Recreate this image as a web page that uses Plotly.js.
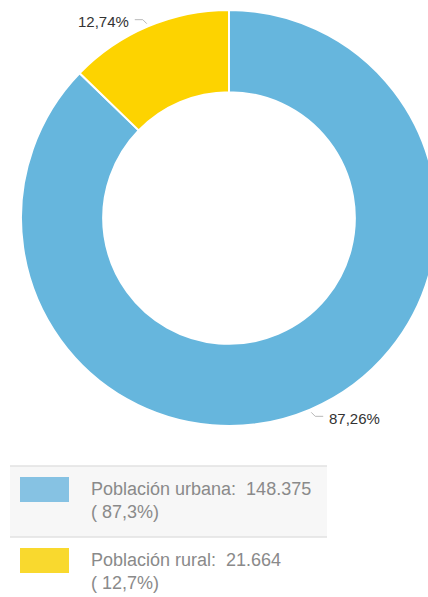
<!DOCTYPE html>
<html>
<head>
<meta charset="utf-8">
<script src="https://cdn.plot.ly/plotly-3.0.1.min.js"></script>
<style>
html, body { margin: 0; padding: 0; overflow: hidden; background: #ffffff; }
#chart { width: 460px; height: 597px; }
</style>
</head>
<body>
<div id="chart"></div>
<script>
// ---- data ----
const categories = ['Población urbana', 'Población rural'];
const values = [148375, 21664];
const sliceColors = ['#66b6dd', '#fdd300'];
const legendColors = ['#86c2e3', '#f9d92e'];

// ---- geometry (layout only) ----
const W = 460, H = 597;
const cx = 229, cy = 218, R = 208;
const px = x => x / W;
const py = y => 1 - y / H;

const total = values.reduce((a, b) => a + b, 0);
const fmtPct = (v, d) => (100 * v / total).toFixed(d).replace('.', ',') + '%';
const fmtNum = v => v.toString().replace(/\B(?=(\d{3})+(?!\d))/g, '.');

const trace = {
  type: 'pie',
  labels: categories,
  values: values,
  sort: false,
  direction: 'clockwise',
  rotation: 0,
  hole: 0.605,
  textinfo: 'none',
  hoverinfo: 'label+value+percent',
  marker: { colors: sliceColors, line: { color: '#ffffff', width: 2 } },
  domain: { x: [px(cx - R), px(cx + R)], y: [py(cy + R), py(cy - R)] },
  showlegend: false
};

const shapes = [];
const annotations = [];

// outside data labels with crooked connectors
let cum = 0;
values.forEach((v, i) => {
  const mid = (cum + v / 2) / total;
  cum += v;
  const th = mid * 2 * Math.PI;
  const s = Math.sin(th), c = Math.cos(th);
  const side = s >= 0 ? 1 : -1;
  const vs = c < 0 ? 1 : -1;
  const x0 = cx + (R + 3) * s, y0 = cy - (R + 3) * c;
  const x1 = x0 + side * 4, y1 = y0 + vs * 4;
  const x2 = x1 + side * 8, y2 = y1;
  shapes.push({
    type: 'path', xref: 'paper', yref: 'paper',
    path: `M ${px(x0)} ${py(y0)} L ${px(x1)} ${py(y1)} L ${px(x2)} ${py(y2)}`,
    line: { color: '#b8b8b8', width: 1 }
  });
  annotations.push({
    xref: 'paper', yref: 'paper',
    x: px(x2 + side * 4), y: py(y2 + 2),
    xanchor: side > 0 ? 'left' : 'right', yanchor: 'middle',
    text: fmtPct(v, 2), showarrow: false,
    font: { family: 'Liberation Sans, Arial, sans-serif', size: 15, color: '#333333' }
  });
});

// custom legend block
const legTop = 466, rowH = 71, legL = 10, legR = 327;
categories.forEach((name, i) => {
  const top = legTop + i * rowH;
  if (i === 0) {
    shapes.push({ type: 'rect', xref: 'paper', yref: 'paper', layer: 'below',
      x0: px(legL), x1: px(legR), y0: py(top), y1: py(top + rowH),
      fillcolor: '#f7f7f7', line: { width: 0 } });
  }
  shapes.push({ type: 'line', xref: 'paper', yref: 'paper',
    x0: px(legL), x1: px(legR), y0: py(top), y1: py(top),
    line: { color: '#e2e2e2', width: 1.5 } });
  shapes.push({ type: 'rect', xref: 'paper', yref: 'paper',
    x0: px(20), x1: px(69), y0: py(top + 11), y1: py(top + 36),
    fillcolor: legendColors[i], line: { width: 0 } });
  annotations.push({
    xref: 'paper', yref: 'paper', x: px(89), y: py(top + 11),
    xanchor: 'left', yanchor: 'top', align: 'left', showarrow: false,
    text: name + ':  ' + fmtNum(values[i]) + '<br>( ' + fmtPct(values[i], 1) + ')',
    font: { family: 'Liberation Sans, Arial, sans-serif', size: 18, color: '#8a8a8a' }
  });
});
shapes.push({ type: 'line', xref: 'paper', yref: 'paper',
  x0: px(legL), x1: px(legR), y0: py(legTop + 2 * rowH), y1: py(legTop + 2 * rowH),
  line: { color: '#e2e2e2', width: 1.5 } });

const layout = {
  width: W, height: H,
  margin: { l: 0, r: 0, t: 0, b: 0 },
  paper_bgcolor: '#ffffff',
  showlegend: false,
  shapes: shapes,
  annotations: annotations
};

Plotly.newPlot('chart', [trace], layout, { displayModeBar: false, staticPlot: true });
</script>
</body>
</html>
